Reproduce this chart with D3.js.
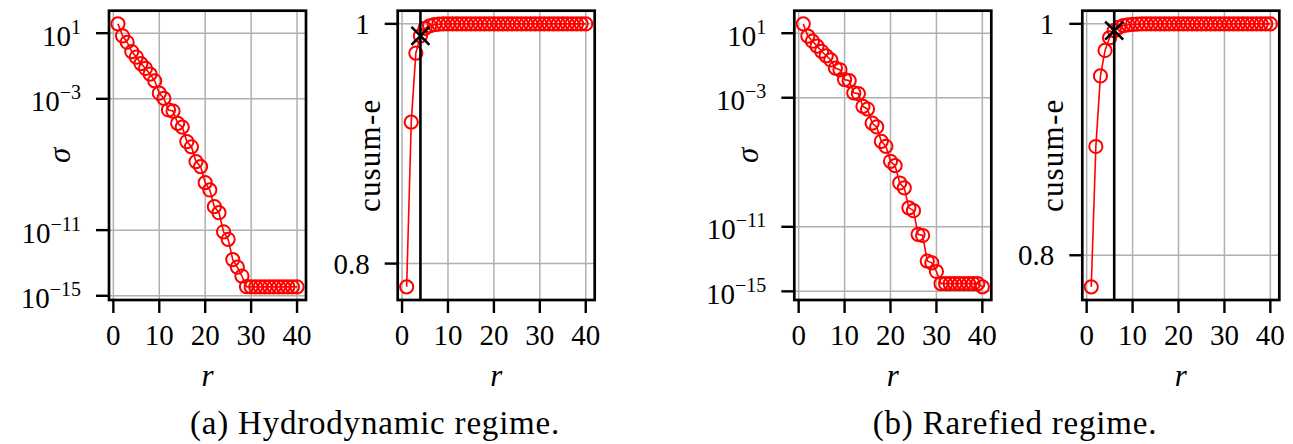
<!DOCTYPE html>
<html>
<head>
<meta charset="utf-8">
<script src="https://cdn.jsdelivr.net/npm/d3@7/dist/d3.min.js"></script>
<style>
  html, body { margin: 0; padding: 0; background: #fff; }
  svg { display: block; }
  svg text { font-family: "Liberation Serif", "DejaVu Serif", "Noto Serif", Tinos, "Times New Roman", Times, FreeSerif, "Nimbus Roman", serif; }
</style>
</head>
<body>
<svg id="chart" width="1293" height="444"></svg>
<script>
// Rank index r (x axis of every panel)
const rank = [1,2,3,4,5,6,7,8,9,10,11,12,13,14,15,16,17,18,19,20,
              21,22,23,24,25,26,27,28,29,30,31,32,33,34,35,36,37,38,39,40];

// Singular values, hydrodynamic regime
const sigmaHydro = [3.7e1, 6.9e0, 2.8e0, 7.6e-1, 3.5e-1, 1.4e-1, 7.1e-2, 3.2e-2, 1.26e-2, 2.2e-3,
                    1.07e-3, 2.1e-4, 1.8e-4, 3.2e-5, 1.9e-5, 2.5e-6, 1.2e-6, 1.5e-7, 7.4e-8, 7.8e-9,
                    2.8e-9, 2.7e-10, 1.15e-10, 7.9e-12, 2.75e-12, 1.6e-13, 5.6e-14, 1.6e-14, 3.6e-15, 3.5e-15,
                    3.5e-15, 3.5e-15, 3.5e-15, 3.5e-15, 3.5e-15, 3.5e-15, 3.5e-15, 3.5e-15, 3.5e-15, 3.5e-15];

// Cumulative energy, hydrodynamic regime
const cusumHydro = [0.7806, 0.918, 0.9756, 0.990, 0.9962, 0.9984, 0.9993, 0.9997, 0.9999, 0.99995,
                    1, 1, 1, 1, 1, 1, 1, 1, 1, 1,
                    1, 1, 1, 1, 1, 1, 1, 1, 1, 1,
                    1, 1, 1, 1, 1, 1, 1, 1, 1, 1];

// Singular values, rarefied regime
const sigmaRare = [3.8e1, 6.6e0, 3.2e0, 1.58e0, 7.6e-1, 4.0e-1, 2.2e-1, 6.9e-2, 5.4e-2, 1.35e-2,
                   1.15e-2, 2.0e-3, 1.8e-3, 2.9e-4, 2.0e-4, 2.7e-5, 1.55e-5, 2.0e-6, 9.8e-7, 1.15e-7,
                   6.2e-8, 5.2e-9, 2.6e-9, 1.5e-10, 1.0e-10, 3.4e-12, 2.9e-12, 7.6e-14, 5.9e-14, 1.7e-14,
                   3.0e-15, 3.0e-15, 3.0e-15, 3.0e-15, 3.0e-15, 3.0e-15, 3.0e-15, 3.0e-15, 3.0e-15, 1.9e-15];

// Cumulative energy, rarefied regime
const cusumRare = [0.7727, 0.894, 0.955, 0.977, 0.988, 0.9942, 0.997, 0.9985, 0.9992, 0.9996,
                   0.9998, 0.9999, 0.99995, 1, 1, 1, 1, 1, 1, 1,
                   1, 1, 1, 1, 1, 1, 1, 1, 1, 1,
                   1, 1, 1, 1, 1, 1, 1, 1, 1, 1];

// Selected truncation ranks
const rankHydro = 4;
const rankRare = 6;

// Tick values and labels
const xTicks = [0, 10, 20, 30, 40];
const sigmaTickExp = [1, -3, -11, -15];
const cusumTicks = [0.8, 1];
const cusumTickLabels = ["0.8", "1"];

const captions = ["(a) Hydrodynamic regime.", "(b) Rarefied regime."];

const svg = d3.select("#chart");
const FONT = 29;
const plotTop = 10.7, plotH = 289.3, plotW = 197;
const RED = "#ff0000";

function pad(lo, hi) { const d = hi - lo; return [lo - 0.05 * d, hi + 0.05 * d]; }

function drawPanel(cfg) {
  const g = svg.append("g");
  const x = d3.scaleLinear().domain(pad(d3.min(rank), d3.max(rank)))
              .range([cfg.left, cfg.left + plotW]);
  let y;
  if (cfg.kind === "sigma") {
    const ld = pad(Math.log10(d3.min(cfg.values)), Math.log10(d3.max(cfg.values)));
    y = d3.scaleLog().domain([Math.pow(10, ld[0]), Math.pow(10, ld[1])]).range([plotTop + plotH, plotTop]);
  } else {
    y = d3.scaleLinear().domain(pad(d3.min(cfg.values), d3.max(cfg.values))).range([plotTop + plotH, plotTop]);
  }
  const yTickVals = cfg.kind === "sigma" ? sigmaTickExp.map(e => Math.pow(10, e)) : cusumTicks;

  // grid
  const grid = g.append("g").attr("stroke", "#b0b0b0").attr("stroke-width", 1.5);
  xTicks.forEach(t => grid.append("line")
      .attr("x1", x(t)).attr("x2", x(t)).attr("y1", plotTop).attr("y2", plotTop + plotH));
  yTickVals.forEach(t => grid.append("line")
      .attr("x1", cfg.left).attr("x2", cfg.left + plotW).attr("y1", y(t)).attr("y2", y(t)));

  // clip to axes box
  const clipId = "clip" + cfg.id;
  svg.append("clipPath").attr("id", clipId).append("rect")
     .attr("x", cfg.left).attr("y", plotTop).attr("width", plotW).attr("height", plotH);
  const plot = g.append("g").attr("clip-path", `url(#${clipId})`);

  const pts = rank.map((r, i) => [r, cfg.values[i]]);
  plot.append("path").datum(pts)
    .attr("fill", "none").attr("stroke", RED).attr("stroke-width", 1.6)
    .attr("d", d3.line().x(d => x(d[0])).y(d => y(d[1])));
  plot.selectAll("circle").data(pts).join("circle")
    .attr("cx", d => x(d[0])).attr("cy", d => y(d[1])).attr("r", 6.6)
    .attr("fill", "none").attr("stroke", RED).attr("stroke-width", 2);

  if (cfg.kind === "cusum") {
    const rx = x(cfg.rank);
    g.append("line").attr("x1", rx).attr("x2", rx).attr("y1", plotTop).attr("y2", plotTop + plotH)
      .attr("stroke", "#000").attr("stroke-width", 2.6);
    const cy = y(cfg.values[cfg.rank - 1]);
    const s = 9;
    g.append("path")
      .attr("d", `M${rx - s},${cy - s}L${rx + s},${cy + s}M${rx - s},${cy + s}L${rx + s},${cy - s}`)
      .attr("stroke", "#000").attr("stroke-width", 2.6);
  }

  // spines
  g.append("rect").attr("x", cfg.left).attr("y", plotTop).attr("width", plotW).attr("height", plotH)
    .attr("fill", "none").attr("stroke", "#000").attr("stroke-width", 2.7);

  // x ticks and labels
  const xa = g.append("g");
  xTicks.forEach(t => {
    xa.append("line").attr("x1", x(t)).attr("x2", x(t)).attr("y1", plotTop + plotH).attr("y2", plotTop + plotH + 13)
      .attr("stroke", "#000").attr("stroke-width", 2.4);
    xa.append("text").attr("x", x(t)).attr("y", 345).attr("text-anchor", "middle")
      .attr("font-size", FONT).text(t);
  });
  g.append("text").attr("x", cfg.left + plotW / 2).attr("y", 386).attr("text-anchor", "middle")
    .attr("font-size", 31).attr("font-style", "italic").text("r");

  // y ticks and labels
  const ya = g.append("g");
  yTickVals.forEach((t, i) => {
    const ty = y(t);
    ya.append("line").attr("x1", cfg.left - 13).attr("x2", cfg.left).attr("y1", ty).attr("y2", ty)
      .attr("stroke", "#000").attr("stroke-width", 2.4);
    const tx = ya.append("text").attr("x", cfg.left - 28).attr("text-anchor", "end")
      .attr("font-size", FONT);
    if (cfg.kind === "sigma") {
      const e = sigmaTickExp[i];
      tx.attr("y", ty + 12.5);
      tx.append("tspan").text("10");
      tx.append("tspan").attr("dy", -12).attr("font-size", 20)
        .text(e < 0 ? "\u2212" + Math.abs(e) : String(e));
    } else {
      tx.attr("y", ty + 10).text(cusumTickLabels[i]);
    }
  });

  // y axis label
  const ly = plotTop + plotH / 2;
  const lx = cfg.left - cfg.labelOffset;
  g.append("text").attr("transform", `translate(${lx},${ly}) rotate(-90)`)
    .attr("text-anchor", "middle").attr("font-size", 31)
    .attr("font-style", cfg.kind === "sigma" ? "italic" : "normal")
    .attr("letter-spacing", cfg.kind === "sigma" ? 0 : 1.2)
    .text(cfg.kind === "sigma" ? "σ" : "cusum-e");
}

drawPanel({id: 0, left: 109,    kind: "sigma", values: sigmaHydro, labelOffset: 39});
drawPanel({id: 1, left: 397.7,  kind: "cusum", values: cusumHydro, rank: rankHydro, labelOffset: 17.7});
drawPanel({id: 2, left: 794.3,  kind: "sigma", values: sigmaRare,  labelOffset: 36.3});
drawPanel({id: 3, left: 1082.3, kind: "cusum", values: cusumRare,  rank: rankRare, labelOffset: 19.3});

// sub-figure captions
[[375, captions[0]], [1015, captions[1]]].forEach(([cx, t]) => {
  svg.append("text").attr("x", cx).attr("y", 434).attr("text-anchor", "middle")
    .attr("font-size", 33).attr("letter-spacing", 0.8).text(t);
});
</script>
</body>
</html>
